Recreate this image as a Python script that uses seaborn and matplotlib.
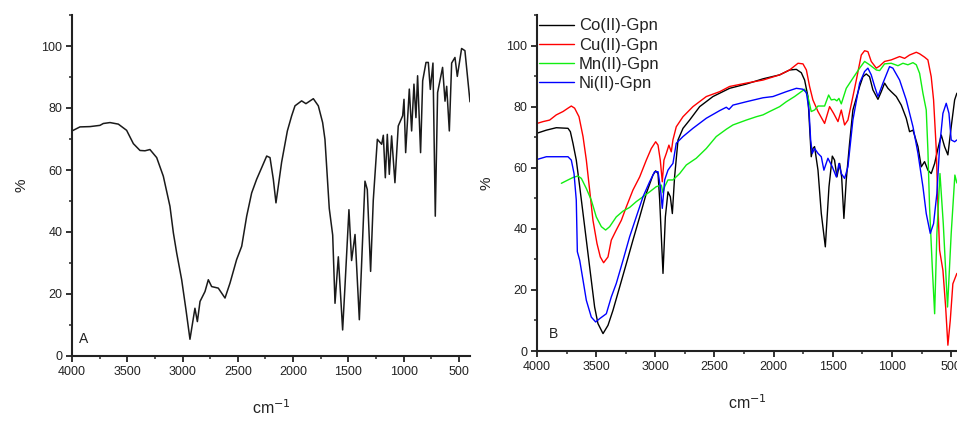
import matplotlib
matplotlib.use("Agg")
import matplotlib.pyplot as plt
import seaborn as sns
import numpy as np
from matplotlib.ticker import MultipleLocator

# ---------------- Data ----------------
# Panel A (ligand)
wn_a = [4000, 3928, 3837, 3747, 3717, 3656, 3581, 3506, 3445, 3385, 3340, 3295, 3234, 3174,
        3114, 3083, 3053, 3008, 2969, 2933, 2888, 2866, 2842, 2797, 2767, 2737, 2677, 2616,
        2571, 2511, 2465, 2420, 2375, 2330, 2285, 2239, 2209, 2179, 2155, 2104, 2052, 2013,
        1983, 1923, 1884, 1817, 1772, 1733, 1712, 1673, 1642, 1621, 1591, 1552, 1531, 1495,
        1471, 1440, 1401, 1350, 1329, 1299, 1275, 1238, 1199, 1184, 1166, 1148, 1130, 1109,
        1079, 1049, 1009, 997, 982, 949, 928, 907, 889, 874, 847, 828, 798, 777, 759, 735,
        714, 693, 648, 626, 611, 587, 566, 536, 515, 476, 446, 400]
t_a = [72.6, 73.9, 74.0, 74.4, 75.0, 75.3, 74.8, 72.8, 68.5, 66.3, 66.2, 66.6, 64.0, 58.0,
       48.3, 39.7, 33.2, 24.6, 14.9, 5.4, 15.4, 11.1, 17.6, 20.8, 24.6, 22.4, 21.9, 18.7,
       23.5, 31.1, 35.4, 45.1, 52.6, 57.0, 60.7, 64.5, 64.0, 57.0, 49.4, 62.5, 72.6, 77.5,
       80.7, 82.3, 81.4, 83.0, 80.7, 75.3, 69.9, 47.6, 39.0, 17.0, 32.0, 8.4, 22.4, 47.2,
       30.8, 39.2, 11.7, 56.4, 53.7, 27.3, 50.2, 69.9, 68.3, 71.2, 57.5, 71.5, 58.6, 71.0,
       55.9, 74.2, 77.5, 82.8, 65.6, 86.1, 72.6, 87.7, 76.9, 90.4, 65.6, 88.8, 94.7, 94.7,
       86.0, 94.5, 45.1, 85.0, 93.1, 82.2, 87.0, 72.6, 94.5, 96.3, 90.2, 99.2, 98.5, 82.0]

# Panel B (complexes)
wn_co = [4000, 3921, 3837, 3738, 3718, 3696, 3668, 3639, 3597, 3555, 3513, 3485, 3442, 3400,
         3358, 3301, 3245, 3189, 3132, 3076, 3020, 2997, 2977, 2963, 2935, 2915, 2893, 2873,
         2856, 2837, 2808, 2766, 2710, 2625, 2513, 2372, 2231, 2090, 1949, 1865, 1808, 1766,
         1738, 1710, 1696, 1682, 1668, 1654, 1625, 1597, 1563, 1532, 1504, 1485, 1465, 1442,
         1425, 1406, 1386, 1358, 1330, 1273, 1245, 1217, 1189, 1161, 1118, 1090, 1062, 1034,
         1006, 963, 921, 879, 851, 822, 780, 752, 724, 696, 668, 639, 611, 583, 555, 527,
         499, 470, 451]
t_co = [71.3, 72.3, 73.1, 72.9, 71.8, 68.0, 62.5, 53.8, 40.7, 27.5, 14.4, 9.0, 5.7, 8.4,
        13.3, 21.0, 28.6, 36.3, 43.9, 51.6, 57.6, 59.0, 58.1, 49.4, 25.4, 43.9, 52.1, 50.5,
        45.0, 57.0, 69.1, 72.9, 75.6, 80.0, 83.3, 86.0, 87.4, 89.1, 90.4, 92.0, 92.2, 91.1,
        88.7, 83.3, 73.4, 63.6, 66.3, 66.9, 59.2, 45.0, 34.1, 53.8, 63.8, 62.5, 57.0, 61.4,
        57.0, 43.4, 56.0, 68.0, 78.9, 86.6, 89.8, 90.7, 89.8, 85.5, 82.4, 84.9, 87.7, 86.0,
        84.9, 83.3, 80.5, 76.2, 71.8, 72.3, 66.9, 60.3, 62.0, 59.2, 58.1, 61.4, 66.3, 70.7,
        66.9, 64.2, 73.4, 82.2, 84.4]

wn_cu = [4000, 3949, 3893, 3837, 3780, 3738, 3710, 3682, 3645, 3611, 3583, 3555, 3527, 3493,
         3465, 3437, 3400, 3372, 3330, 3287, 3245, 3189, 3132, 3076, 3034, 2997, 2977, 2958,
         2941, 2927, 2907, 2885, 2865, 2851, 2823, 2766, 2682, 2569, 2456, 2372, 2231, 2090,
         1949, 1865, 1794, 1752, 1723, 1696, 1668, 1625, 1569, 1527, 1493, 1456, 1428, 1400,
         1372, 1330, 1301, 1259, 1231, 1203, 1175, 1132, 1104, 1062, 1006, 935, 893, 851,
         794, 766, 724, 696, 668, 648, 625, 611, 597, 569, 546, 527, 507, 485, 451]
t_cu = [74.5, 75.1, 75.6, 77.3, 78.4, 79.5, 80.2, 79.5, 76.7, 70.2, 62.5, 52.7, 42.8, 35.2,
        30.8, 28.9, 30.8, 36.3, 39.6, 42.8, 47.2, 52.7, 57.0, 62.5, 66.3, 68.5, 67.4, 62.5,
        55.4, 62.5, 64.7, 67.4, 65.2, 69.1, 73.4, 76.7, 80.0, 83.3, 84.9, 86.6, 87.7, 88.7,
        90.4, 92.0, 94.2, 94.0, 92.0, 86.6, 82.2, 78.4, 74.5, 80.0, 77.8, 75.1, 78.9, 74.0,
        75.6, 83.3, 88.7, 96.9, 98.3, 98.0, 94.8, 92.6, 93.3, 94.8, 95.3, 96.4, 95.8, 96.9,
        97.8, 97.3, 96.2, 95.3, 89.8, 82.2, 65.8, 47.2, 33.0, 26.4, 14.4, 1.9, 10.0, 22.0,
        25.4]

wn_mn = [3794, 3738, 3696, 3654, 3625, 3583, 3541, 3499, 3456, 3420, 3386, 3330, 3273, 3217,
         3161, 3104, 3048, 2992, 2949, 2935, 2921, 2893, 2851, 2794, 2738, 2654, 2569, 2485,
         2400, 2344, 2231, 2146, 2090, 2034, 1949, 1893, 1823, 1766, 1738, 1710, 1682, 1654,
         1625, 1569, 1535, 1513, 1485, 1465, 1448, 1428, 1386, 1330, 1273, 1231, 1189, 1132,
         1104, 1062, 1006, 949, 907, 865, 822, 794, 766, 738, 710, 696, 682, 659, 639, 620,
         594, 566, 530, 499, 468, 451]
t_mn = [54.9, 56.0, 56.8, 57.3, 56.5, 53.2, 49.4, 43.9, 40.7, 39.6, 40.7, 43.9, 45.8, 47.0,
        48.9, 50.5, 52.1, 53.8, 54.3, 51.8, 53.8, 56.0, 56.0, 58.1, 60.9, 63.1, 66.3, 70.2,
        72.6, 74.0, 75.6, 76.7, 77.3, 78.4, 80.0, 81.6, 83.3, 84.9, 85.7, 83.3, 78.4, 78.9,
        80.2, 80.2, 83.8, 82.2, 82.4, 81.9, 82.7, 80.9, 86.0, 89.3, 92.6, 94.8, 93.7, 92.0,
        91.8, 94.0, 94.2, 93.4, 94.2, 93.7, 94.4, 93.7, 90.9, 84.4, 78.9, 65.8, 47.2, 27.5,
        12.2, 38.5, 58.1, 41.7, 14.4, 38.5, 57.6, 55.0]

wn_ni = [4000, 3921, 3738, 3710, 3687, 3668, 3659, 3639, 3611, 3583, 3541, 3504, 3470, 3414,
         3372, 3330, 3273, 3217, 3161, 3104, 3048, 3006, 2977, 2958, 2941, 2921, 2893, 2873,
         2851, 2823, 2766, 2682, 2569, 2456, 2400, 2377, 2344, 2231, 2090, 2006, 1893, 1808,
         1752, 1723, 1701, 1687, 1673, 1654, 1625, 1597, 1575, 1541, 1504, 1470, 1448, 1428,
         1400, 1372, 1330, 1273, 1231, 1203, 1175, 1146, 1118, 1076, 1020, 992, 935, 879,
         822, 780, 738, 710, 676, 648, 620, 597, 569, 541, 518, 499, 470, 451]
t_ni = [62.7, 63.6, 63.6, 62.5, 58.1, 49.4, 32.5, 29.7, 23.2, 16.6, 11.1, 9.5, 10.6, 12.2,
        17.7, 22.1, 29.7, 37.4, 43.9, 50.5, 55.4, 58.7, 58.7, 53.8, 46.7, 56.0, 59.2, 60.3,
        61.4, 68.0, 70.2, 72.9, 76.2, 78.7, 79.8, 79.1, 80.5, 81.6, 82.9, 83.3, 84.9, 86.0,
        85.7, 84.6, 78.9, 69.1, 64.7, 66.3, 64.7, 63.6, 59.2, 63.1, 60.3, 57.0, 61.4, 58.1,
        56.5, 60.3, 75.6, 87.7, 91.5, 92.6, 90.4, 86.6, 83.3, 87.7, 93.1, 92.6, 88.7, 82.2,
        73.4, 64.7, 53.8, 45.0, 38.5, 41.7, 51.6, 66.9, 77.8, 81.1, 77.8, 69.1, 68.5, 69.1]

series_labels = ["Co(II)-Gpn", "Cu(II)-Gpn", "Mn(II)-Gpn", "Ni(II)-Gpn"]
series_colors = ["#000000", "#ff0000", "#11ee11", "#0000ff"]

# ---------------- Plot ----------------
sns.set_style("ticks")
plt.rcParams["font.family"] = ["Liberation Sans", "DejaVu Sans"]

W, H = 957, 425
fig = plt.figure(figsize=(W / 100, H / 100), dpi=100)
axA = fig.add_axes([72 / W, (H - 356) / H, 398 / W, 341 / H])
axB = fig.add_axes([537 / W, (H - 351) / H, 420 / W, 336 / H])

sns.lineplot(x=wn_a, y=t_a, ax=axA, color="#1a1a1a", linewidth=1.1, estimator=None)

for wn, t, lab, col in zip([wn_co, wn_cu, wn_mn, wn_ni], [t_co, t_cu, t_mn, t_ni],
                           series_labels, series_colors):
    sns.lineplot(x=wn, y=t, ax=axB, color=col, linewidth=1.0, estimator=None, label=lab)

for ax, xr in ((axA, 400), (axB, 450)):
    ax.set_xlim(4000, xr)
    ax.set_ylim(0, 110)
    ax.xaxis.set_major_locator(MultipleLocator(500))
    ax.xaxis.set_minor_locator(MultipleLocator(250))
    ax.yaxis.set_major_locator(MultipleLocator(20))
    ax.yaxis.set_minor_locator(MultipleLocator(10))
    ax.set_yticks([0, 20, 40, 60, 80, 100])
    ax.tick_params(which="major", direction="out", length=4, width=1.3,
                   labelsize=9, colors="#222222", pad=3)
    ax.tick_params(which="minor", direction="out", length=2.5, width=1.1)
    for s in ("top", "right"):
        ax.spines[s].set_visible(False)
    for s in ("left", "bottom"):
        ax.spines[s].set_linewidth(1.5)
        ax.spines[s].set_color("#222222")
    ax.set_xlabel("cm$^{-1}$", fontsize=11.5, labelpad=15, color="#222222")
    ax.set_ylabel("%", fontsize=11, labelpad=9, color="#222222")
    ax.grid(False)

axA.text(0.018, 0.03, "A", transform=axA.transAxes, fontsize=10, color="#222222",
         ha="left", va="bottom")
axB.text(0.028, 0.03, "B", transform=axB.transAxes, fontsize=10, color="#222222",
         ha="left", va="bottom")

leg = axB.legend(loc="upper left", bbox_to_anchor=(0.0, 0.995), frameon=False,
                 fontsize=12, handlelength=2.1, handletextpad=0.3, labelspacing=0.25,
                 borderaxespad=0.0, borderpad=0.1)
for t in leg.get_texts():
    t.set_color("#222222")

fig.savefig("out.png", dpi=100)
